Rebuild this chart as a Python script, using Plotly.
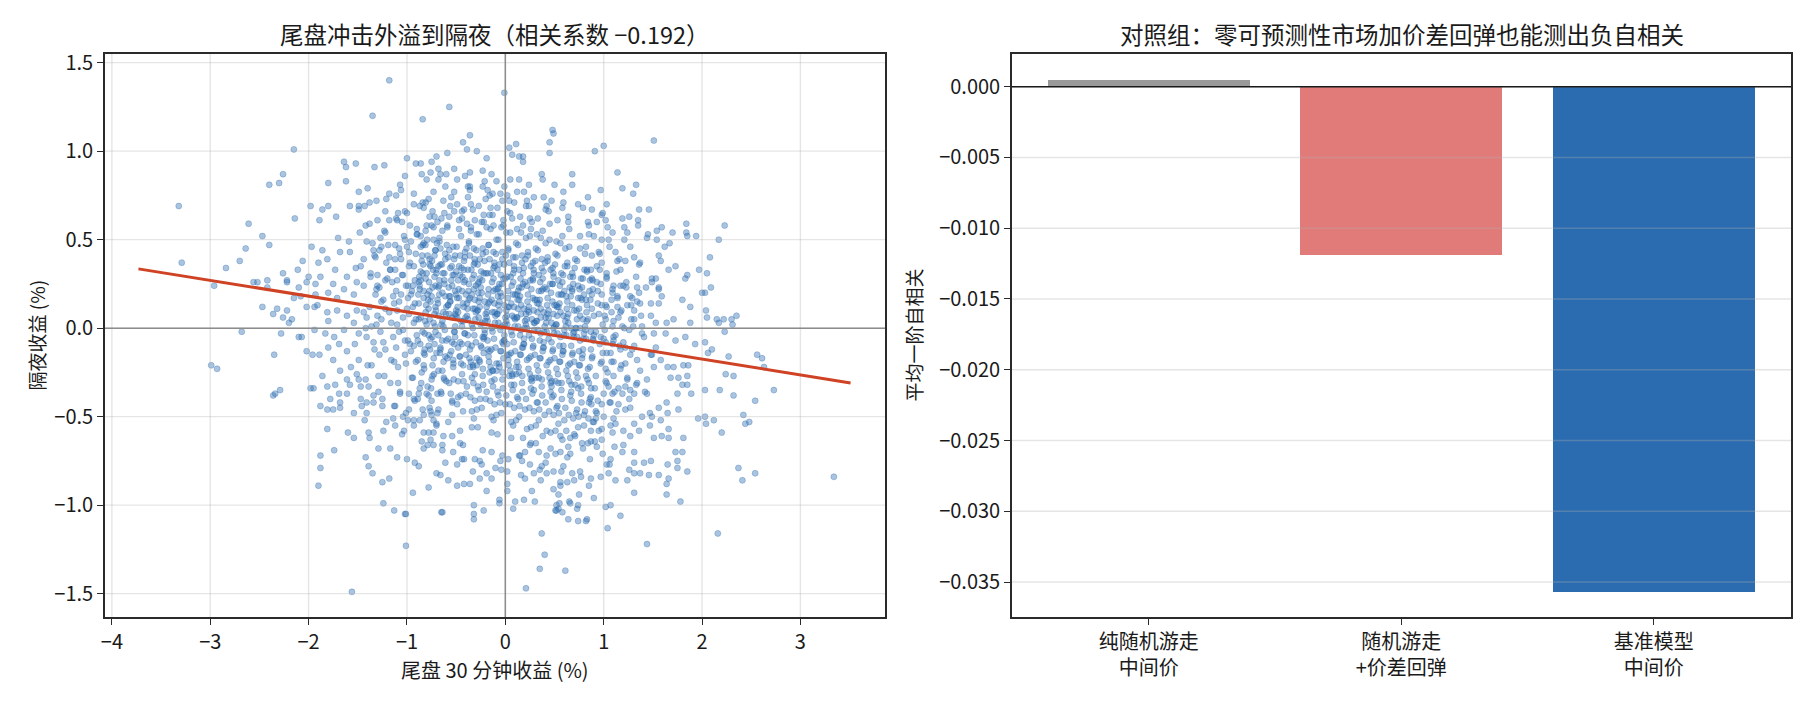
import plotly.graph_objects as go

# ---- left panel: late-session 30 min return (x, %) vs overnight return (y, %) ----
# points, sparse outer ring first, dense middle last
upper_left_pts = [
    (-1.18, 1.40), (-1.35, 1.20), (-0.84, 1.18), (-2.15, 1.01), (-3.32, 0.69), (-3.29, 0.37), (-2.40, 0.81), (-2.30, 0.82),
    (-2.26, 0.87), (-2.61, 0.59), (-2.47, 0.52), (-2.40, 0.47), (-2.64, 0.45), (-2.70, 0.38), (-2.84, 0.34), (-2.26, 0.31),
    (-2.14, 0.62), (-2.11, 0.33), (-2.22, 0.27), (-2.42, 0.27), (-2.52, 0.26), (-2.96, 0.24), (-1.80, 0.82), (-1.64, 0.94),
    (-1.62, 0.91), (-1.52, 0.93), (-1.33, 0.91), (-1.23, 0.92), (-1.62, 0.83), (-1.40, 0.79), (-1.49, 0.77), (-1.98, 0.69),
    (-1.86, 0.67), (-1.80, 0.69), (-1.89, 0.61), (-1.72, 0.63), (-1.58, 0.69), (-1.49, 0.69), (-1.43, 0.69), (-1.49, 0.67),
    (-1.00, 0.96), (-0.91, 0.93), (-0.86, 0.93), (-0.70, 0.97), (-1.02, 0.86), (-1.07, 0.81), (-0.93, 0.76), (-1.11, 0.75),
    (-1.18, 0.76), (-1.31, 0.72), (-1.22, 0.66), (-1.30, 0.61), (-1.10, 0.61), (-1.00, 0.65), (-0.93, 0.70), (-0.83, 0.68),
    (-0.78, 0.73), (-0.73, 0.77), (-0.68, 0.84), (-1.97, 0.46), (-1.86, 0.44), (-1.81, 0.39), (-1.90, 0.37), (-2.06, 0.38),
    (-2.00, 0.29), (-1.88, 0.29), (-1.73, 0.33), (-1.68, 0.43), (-1.58, 0.43), (-1.70, 0.51), (-1.59, 0.49), (-1.48, 0.54),
    (-1.38, 0.59), (-1.41, 0.49), (-1.44, 0.39), (-1.52, 0.34), (-1.61, 0.29), (-1.51, 0.26), (-1.37, 0.31), (-1.32, 0.40),
    (-1.26, 0.46), (-1.22, 0.54), (-1.17, 0.33), (-1.12, 0.39), (-1.10, 0.27), (-1.02, 0.50), (-0.98, 0.43), (-0.93, 0.35),
    (-0.90, 0.56), (-0.83, 0.48), (-0.80, 0.58), (-0.73, 0.50), (-0.86, 0.27), (-0.70, 0.31), (-0.77, 0.39), (-0.71, 0.24),
    (-1.30, 0.24), (-1.75, 0.25),
]
upper_right_pts = [
    (-0.01, 1.33), (-0.57, 1.25), (0.48, 1.12), (0.49, 1.10), (1.51, 1.06), (-0.36, 1.09), (-0.43, 1.05), (0.04, 1.02),
    (0.11, 1.04), (0.45, 1.05), (0.45, 0.99), (0.91, 1.00), (1.00, 1.03), (-0.39, 1.01), (-0.29, 1.00), (-0.59, 0.99),
    (-0.19, 0.96), (0.07, 0.98), (0.14, 0.97), (0.18, 0.97), (0.18, 0.94), (-0.75, 0.94), (-0.85, 0.87), (-0.68, 0.90),
    (-0.52, 0.90), (-0.36, 0.88), (-0.23, 0.89), (-0.14, 0.87), (-0.66, 0.87), (-0.76, 0.88), (-0.60, 0.87), (-0.49, 0.84),
    (-0.36, 0.80), (-0.23, 0.80), (-0.09, 0.83), (-0.05, 0.76), (-0.13, 0.76), (0.05, 0.84), (0.14, 0.84), (0.24, 0.81),
    (0.37, 0.87), (0.38, 0.84), (0.50, 0.81), (0.68, 0.87), (0.68, 0.81), (0.59, 0.77), (1.14, 0.88), (1.19, 0.79),
    (1.33, 0.81), (1.30, 0.76), (0.97, 0.78), (0.84, 0.74), (0.74, 0.70), (0.88, 0.67), (1.03, 0.70), (1.36, 0.67),
    (1.46, 0.67), (1.35, 0.61), (1.35, 0.58), (1.26, 0.63), (1.84, 0.59), (2.23, 0.58), (2.17, 0.50), (2.08, 0.40),
    (1.97, 0.33), (2.05, 0.31), (2.09, 0.23), (1.84, 0.54), (1.85, 0.52), (1.94, 0.52), (1.70, 0.54), (1.54, 0.55),
    (1.59, 0.57), (1.45, 0.53), (1.54, 0.50), (1.67, 0.48), (1.62, 0.46), (1.56, 0.41), (1.58, 0.38), (1.66, 0.33),
    (1.73, 0.35), (1.85, 0.30), (1.83, 0.28), (1.53, 0.28), (1.49, 0.28), (1.56, 0.23), (1.34, 0.23), (1.21, 0.50),
    (1.21, 0.57), (1.27, 0.46), (1.31, 0.40), (1.37, 0.37), (1.17, 0.33), (1.22, 0.38), (1.12, 0.43), (1.14, 0.38),
    (1.06, 0.46), (1.09, 0.54), (0.98, 0.64), (1.02, 0.61), (0.93, 0.60), (0.85, 0.58), (0.76, 0.52), (0.90, 0.52),
    (0.98, 0.50), (0.95, 0.43), (0.82, 0.46), (0.88, 0.41), (0.98, 0.37), (0.87, 0.33), (1.03, 0.31), (0.93, 0.26),
    (1.10, 0.24), (-0.81, 0.71), (-0.74, 0.66), (-0.63, 0.72), (-0.57, 0.63), (-0.49, 0.70), (-0.44, 0.66), (-0.38, 0.74),
    (-0.31, 0.61), (-0.27, 0.69), (-0.20, 0.73), (-0.16, 0.64), (-0.08, 0.68), (-0.03, 0.72), (0.02, 0.66), (0.09, 0.71),
    (0.15, 0.63), (0.21, 0.69), (0.29, 0.74), (0.33, 0.62), (0.41, 0.67), (0.47, 0.72), (0.53, 0.61), (0.58, 0.68),
    (0.64, 0.60), (-0.69, 0.60), (-0.52, 0.77), (-0.12, 0.58), (0.26, 0.56), (-0.35, 0.55), (0.12, 0.77),
]
lower_left_pts = [
    (-2.68, -0.02), (-2.99, -0.21), (-2.93, -0.23), (-2.35, -0.15), (-2.28, -0.03), (-2.36, -0.38), (-2.34, -0.37), (-2.29, -0.35),
    (-2.47, 0.12), (-2.36, 0.08), (-2.32, 0.11), (-2.26, 0.06), (-2.22, 0.10), (-2.20, 0.03), (-2.17, 0.05), (-2.15, 0.17),
    (-2.08, 0.18), (-2.56, 0.26), (-2.42, 0.23), (-2.22, 0.26), (-2.10, -0.05), (-2.07, -0.05), (-2.02, -0.13), (-1.96, -0.15),
    (-1.89, -0.15), (-1.94, -0.01), (-1.94, 0.12), (-2.02, 0.12), (-1.86, -0.27), (-1.95, -0.34), (-1.81, -0.33), (-1.88, -0.44),
    (-1.81, -0.57), (-1.88, -0.72), (-1.88, -0.79), (-1.90, -0.89), (-1.74, -0.69), (-1.60, -0.59), (-1.54, -0.62), (-1.42, -0.73),
    (-1.39, -0.78), (-1.35, -0.82), (-1.43, -0.52), (-1.39, -0.59), (-1.38, -0.62), (-1.29, -0.68), (-1.25, -0.87), (-1.18, -0.85),
    (-1.24, -0.99), (-1.13, -1.03), (-1.02, -1.05), (-0.94, -0.93), (-0.78, -0.90), (-0.92, -0.76), (-0.88, -0.78), (-1.00, -0.74),
    (-1.10, -0.73), (-1.17, -0.68), (-1.05, -0.60), (-1.12, -0.55), (-1.21, -0.53), (-1.24, -0.58), (-0.99, -0.52), (-0.93, -0.52),
    (-0.87, -0.52), (-0.83, -0.59), (-0.78, -0.59), (-0.73, -0.66), (-0.79, -0.66), (-0.70, -0.82), (-0.83, -0.49), (-0.75, -0.49),
    (-0.70, -0.54), (-1.04, -0.50), (-1.58, -0.32), (-1.61, -0.37), (-1.69, -0.37), (-1.68, -0.42), (-1.78, -0.40), (-1.81, -0.46),
    (-1.68, -0.45), (-1.75, -0.46), (-1.54, -0.48), (-1.47, -0.40), (-1.41, -0.42), (-1.34, -0.42), (-1.34, -0.38), (-1.25, -0.44),
    (-1.13, -0.44), (-1.07, -0.37), (-0.98, -0.37), (-0.93, -0.40), (-0.88, -0.37), (-0.80, -0.37), (-0.75, -0.41), (-0.77, -0.45),
    (-0.68, -0.46), (-1.41, -0.48), (-1.98, -0.34), (-1.75, -0.18), (-1.80, -0.11), (-1.68, -0.24), (-1.57, -0.22), (-1.51, -0.26),
    (-1.61, -0.29), (-1.73, -0.32), (-1.47, -0.33), (-1.42, -0.29), (-1.49, -0.18), (-1.40, -0.21), (-1.61, -0.13), (-1.53, -0.09),
    (-1.69, -0.09), (-1.74, -0.05), (-1.83, -0.03), (-1.64, -0.01), (-1.49, -0.03), (-1.42, 0.00), (-1.80, 0.04), (-1.81, 0.09),
    (-1.71, 0.10), (-1.61, 0.07), (-1.51, 0.10), (-1.54, 0.03), (-1.41, 0.06), (-1.91, 0.13), (-1.93, 0.19), (-1.80, 0.20),
    (-1.71, 0.17), (-1.64, 0.22), (-1.54, 0.19), (-1.44, 0.24), (-2.02, 0.26), (-2.10, 0.23), (-1.93, 0.25), (-1.56, -1.49),
    (-1.01, -1.23), (-1.01, -1.05), (-0.65, -1.04), (-0.64, -1.04), (-0.32, -1.00), (-0.32, -1.05), (-0.32, -1.08), (-0.22, -1.03),
    (-0.06, -0.97), (-0.06, -0.99), (-0.33, -0.81), (-0.26, -0.75), (-0.19, -0.92), (-0.14, -0.85), (-0.26, -0.85), (-0.49, -0.89),
    (-0.58, -0.86), (-0.66, -0.83), (-0.61, -0.76), (-0.49, -0.77), (-0.42, -0.88), (-0.36, -0.88), (-0.31, -0.74), (-0.42, -0.74),
    (-0.53, -0.70), (-0.64, -0.66), (-0.83, -0.68), (-0.76, -0.63), (-0.73, -0.59), (-0.54, -0.61), (-0.46, -0.65), (-0.14, -0.70),
    (-0.05, -0.75), (-0.10, -0.79), (-0.19, -0.82),
]
lower_right_pts = [
    (2.56, -0.15), (2.61, -0.17), (2.54, -0.41), (2.54, -0.82), (2.37, -0.79), (2.41, -0.86), (2.42, -0.49), (2.44, -0.54),
    (2.48, -0.53), (2.32, -0.38), (2.32, -0.27), (2.24, -0.26), (2.27, -0.16), (2.18, -0.35), (2.20, -0.59), (2.12, -0.52),
    (2.04, -0.54), (2.03, -0.50), (1.96, -0.51), (2.03, -0.35), (1.89, -0.37), (1.75, -0.37), (1.85, -0.32), (1.80, -0.32),
    (1.76, -0.28), (1.85, -0.27), (1.86, -0.21), (1.81, -0.21), (1.68, -0.28), (1.65, -0.22), (1.93, -0.09), (2.03, -0.08),
    (2.06, -0.14), (2.10, -0.12), (2.23, -0.02), (2.17, 0.03), (2.30, 0.05), (2.35, 0.07), (2.31, 0.02), (2.22, 0.05),
    (2.15, 0.05), (2.05, 0.06), (2.04, 0.10), (2.03, 0.20), (2.00, 0.20), (1.88, 0.12), (1.88, 0.03), (1.80, 0.16),
    (1.71, 0.05), (1.64, 0.03), (1.59, 0.18), (1.56, 0.14), (1.48, 0.14), (1.49, 0.26), (1.56, 0.22), (1.36, 0.20),
    (1.37, 0.14), (1.31, 0.10), (1.53, 0.03), (1.63, -0.03), (1.73, -0.07), (1.83, -0.05), (1.53, -0.11), (1.48, -0.15),
    (1.58, -0.18), (1.71, -0.22), (1.51, -0.22), (1.44, -0.29), (1.34, -0.31), (1.31, -0.37), (1.44, -0.37), (1.56, -0.45),
    (1.64, -0.42), (1.76, -0.46), (1.65, -0.48), (1.58, -0.52), (1.49, -0.50), (1.39, -0.50), (1.31, -0.54), (1.47, -0.55),
    (1.66, -0.57), (1.51, -0.62), (1.59, -0.61), (1.66, -0.62), (1.81, -0.62), (1.73, -0.70), (1.80, -0.70), (1.75, -0.75),
    (1.65, -0.77), (1.75, -0.79), (1.85, -0.81), (1.66, -0.85), (1.64, -0.88), (1.64, -0.94), (1.56, -0.83), (1.78, -0.98),
    (1.48, -0.75), (1.41, -0.76), (1.31, -0.76), (1.37, -0.82), (1.31, -0.82), (1.24, -0.86), (1.31, -0.93), (1.17, -1.06),
    (1.12, -0.86), (1.05, -0.82), (1.07, -0.74), (1.19, -0.70), (1.20, -0.66), (1.09, -0.59), (0.98, -0.63), (0.93, -0.67),
    (0.98, -0.57), (0.99, -0.71), (1.03, -0.77), (0.97, -0.84), (0.87, -0.85), (0.85, -0.89), (0.90, -0.96), (1.02, -1.01),
    (1.04, -1.13), (1.07, -1.00), (0.75, -0.94), (0.73, -1.02), (0.83, -1.08), (0.64, -1.08), (0.58, -1.04), (0.54, -1.02),
    (0.51, -1.03), (0.55, -0.99), (0.65, -0.98), (0.54, -0.94), (0.49, -0.91), (0.70, -0.86), (0.63, -0.87), (0.56, -0.87),
    (0.76, -0.81), (0.68, -0.82), (0.59, -0.78), (0.42, -0.82), (0.35, -0.80), (0.29, -0.82), (0.20, -0.85), (0.27, -0.92),
    (0.37, -1.16), (0.19, -0.97), (0.08, -1.02), (0.10, -0.98), (0.02, -0.92), (0.02, -0.88), (0.02, -0.81), (0.15, -0.72),
    (0.14, -0.72), (0.34, -0.70), (0.42, -0.72), (0.56, -0.70), (0.64, -0.67), (0.78, -0.65), (0.87, -0.64), (0.31, -0.65),
    (0.25, -0.66), (0.03, -0.74), (0.20, -0.70), (0.25, -0.77), (0.41, -0.76), (0.49, -0.81), (0.51, -0.71), (0.63, -0.73),
    (0.56, -0.61), (0.70, -0.60), (0.79, -0.68), (0.87, -0.58), (1.10, -0.51), (1.20, -0.58), (1.27, -0.61), (1.36, -0.58),
    (1.07, -0.55), (0.90, -0.53), (1.00, -0.50), (1.22, -0.46), (1.15, -0.43), (1.27, -0.35), (1.19, -0.37), (1.15, -0.34),
    (1.33, -0.32), (1.24, -0.29), (1.37, -0.24), (1.22, -0.20), (1.34, -0.18), (1.17, -0.12), (1.31, -0.10), (1.41, -0.05),
    (1.39, 0.01), (1.26, -0.01), (1.51, -0.03), (1.48, 0.07), (1.31, 0.05), (1.17, 0.09), (1.24, 0.13), (1.14, 0.17),
    (1.27, 0.18), (1.20, 0.24), (1.09, 0.22), (1.03, 0.12), (1.09, 0.01), (1.02, 0.05), (0.97, -0.05), (1.10, -0.07),
    (1.03, -0.14), (1.10, -0.19), (1.02, -0.23), (1.10, -0.27), (1.03, -0.31), (1.09, -0.37), (0.98, -0.43), (0.92, -0.47),
    (0.80, -0.49), (0.85, -0.42), (2.63, -0.22), (2.73, -0.35), (3.34, -0.84), (0.30, -0.98), (0.40, -1.28), (0.35, -1.36),
    (0.21, -1.47), (0.61, -1.37), (0.52, -1.00), (0.52, -1.03), (0.66, -0.99), (0.74, -1.09), (0.82, -1.09), (0.74, -1.00),
    (1.44, -1.22), (2.16, -1.16),
]
core_pts = [
    (-1.38, 0.12), (-1.36, -0.21), (-1.33, 0.41), (-1.31, 0.02), (-1.37, 0.29), (-1.34, -0.08), (-1.32, 0.19), (-1.39, -0.33),
    (-1.35, 0.48), (-1.30, 0.07), (-1.28, 0.23), (-1.22, -0.12), (-1.26, 0.05), (-1.21, 0.37), (-1.29, -0.27), (-1.24, 0.16),
    (-1.23, 0.55), (-1.27, -0.02), (-1.20, 0.28), (-1.25, -0.40), (-1.22, 0.11), (-1.28, 0.44), (-1.18, 0.09), (-1.12, 0.33),
    (-1.16, -0.18), (-1.11, 0.21), (-1.19, 0.47), (-1.14, -0.05), (-1.13, 0.14), (-1.17, -0.31), (-1.10, 0.02), (-1.15, 0.26),
    (-1.12, -0.44), (-1.18, 0.61), (-1.14, 0.18), (-1.11, -0.11), (-1.08, 0.15), (-1.02, -0.07), (-1.06, 0.39), (-1.01, 0.24),
    (-1.09, -0.22), (-1.04, 0.06), (-1.03, 0.52), (-1.07, -0.36), (-1.00, 0.11), (-1.05, 0.30), (-1.02, -0.15), (-1.08, 0.45),
    (-1.04, -0.01), (-1.06, 0.19), (-1.01, -0.48), (-1.09, 0.65), (-0.98, 0.08), (-0.92, 0.27), (-0.96, -0.13), (-0.91, 0.42),
    (-0.99, 0.17), (-0.94, -0.28), (-0.93, 0.03), (-0.97, 0.58), (-0.90, -0.04), (-0.95, 0.21), (-0.92, -0.41), (-0.98, 0.35),
    (-0.94, 0.12), (-0.91, -0.19), (-0.96, 0.49), (-0.93, -0.55), (-0.99, 0.24), (-0.97, -0.09), (-0.88, 0.14), (-0.82, -0.03),
    (-0.86, 0.32), (-0.81, 0.09), (-0.89, -0.18), (-0.84, 0.47), (-0.83, 0.21), (-0.87, -0.34), (-0.80, 0.02), (-0.85, 0.38),
    (-0.82, -0.12), (-0.88, 0.26), (-0.84, -0.46), (-0.86, 0.06), (-0.81, 0.55), (-0.89, -0.07), (-0.83, 0.17), (-0.87, 0.69),
    (-0.85, -0.25), (-0.80, 0.31), (-0.78, 0.11), (-0.72, 0.29), (-0.76, -0.06), (-0.71, 0.44), (-0.79, 0.19), (-0.74, -0.21),
    (-0.73, 0.03), (-0.77, 0.36), (-0.70, -0.14), (-0.75, 0.58), (-0.72, 0.08), (-0.78, -0.38), (-0.74, 0.23), (-0.71, -0.02),
    (-0.76, 0.15), (-0.73, -0.52), (-0.79, 0.41), (-0.77, 0.05), (-0.70, 0.33), (-0.75, -0.29), (-0.72, 0.63), (-0.78, -0.10),
    (-0.68, 0.07), (-0.62, 0.25), (-0.66, -0.11), (-0.61, 0.39), (-0.69, 0.16), (-0.64, -0.24), (-0.63, 0.01), (-0.67, 0.51),
    (-0.60, 0.12), (-0.65, -0.37), (-0.62, 0.31), (-0.68, -0.04), (-0.64, 0.20), (-0.61, -0.16), (-0.66, 0.45), (-0.63, 0.09),
    (-0.69, -0.48), (-0.67, 0.27), (-0.60, -0.07), (-0.65, 0.62), (-0.62, -0.29), (-0.68, 0.35), (-0.64, 0.04), (-0.61, 0.18),
    (-0.58, 0.13), (-0.52, -0.02), (-0.56, 0.34), (-0.51, 0.21), (-0.59, -0.17), (-0.54, 0.06), (-0.53, 0.46), (-0.57, -0.31),
    (-0.50, 0.10), (-0.55, 0.27), (-0.52, -0.09), (-0.58, 0.40), (-0.54, -0.42), (-0.51, 0.01), (-0.56, 0.18), (-0.53, -0.22),
    (-0.59, 0.57), (-0.57, 0.08), (-0.50, 0.32), (-0.55, -0.13), (-0.52, 0.66), (-0.58, -0.53), (-0.54, 0.24), (-0.51, -0.05),
    (-0.56, 0.15), (-0.48, 0.09), (-0.42, 0.26), (-0.46, -0.08), (-0.41, 0.43), (-0.49, 0.17), (-0.44, -0.26), (-0.43, 0.04),
    (-0.47, 0.35), (-0.40, -0.15), (-0.45, 0.52), (-0.42, 0.12), (-0.48, -0.39), (-0.44, 0.21), (-0.41, -0.03), (-0.46, 0.30),
    (-0.43, -0.47), (-0.49, 0.06), (-0.47, 0.61), (-0.40, 0.19), (-0.45, -0.20), (-0.42, 0.38), (-0.48, -0.11), (-0.44, 0.01),
    (-0.41, 0.27), (-0.46, -0.58), (-0.43, 0.14), (-0.38, 0.05), (-0.32, 0.22), (-0.36, -0.12), (-0.31, 0.37), (-0.39, 0.14),
    (-0.34, -0.28), (-0.33, 0.00), (-0.37, 0.48), (-0.30, 0.09), (-0.35, -0.19), (-0.32, 0.30), (-0.38, -0.04), (-0.34, 0.19),
    (-0.31, -0.41), (-0.36, 0.41), (-0.33, 0.11), (-0.39, -0.33), (-0.37, 0.25), (-0.30, -0.08), (-0.35, 0.57), (-0.32, -0.51),
    (-0.38, 0.33), (-0.34, 0.02), (-0.31, 0.16), (-0.36, -0.22), (-0.33, 0.67), (-0.39, 0.07), (-0.28, 0.10), (-0.22, -0.06),
    (-0.26, 0.28), (-0.21, 0.15), (-0.29, -0.21), (-0.24, 0.03), (-0.23, 0.42), (-0.27, -0.35), (-0.20, 0.08), (-0.25, 0.23),
    (-0.22, -0.14), (-0.28, 0.36), (-0.24, -0.45), (-0.21, -0.01), (-0.26, 0.17), (-0.23, -0.27), (-0.29, 0.53), (-0.27, 0.06),
    (-0.20, 0.31), (-0.25, -0.10), (-0.22, 0.60), (-0.28, -0.56), (-0.24, 0.20), (-0.21, -0.03), (-0.26, 0.12), (-0.23, 0.45),
    (-0.29, -0.17), (-0.27, 0.26), (-0.18, 0.04), (-0.12, 0.21), (-0.16, -0.13), (-0.11, 0.35), (-0.19, 0.12), (-0.14, -0.30),
    (-0.13, -0.02), (-0.17, 0.47), (-0.10, 0.07), (-0.15, -0.22), (-0.12, 0.28), (-0.18, -0.07), (-0.14, 0.16), (-0.11, -0.43),
    (-0.16, 0.39), (-0.13, 0.09), (-0.19, -0.36), (-0.17, 0.22), (-0.10, -0.11), (-0.15, 0.56), (-0.12, -0.52), (-0.18, 0.31),
    (-0.14, 0.00), (-0.11, 0.14), (-0.16, -0.25), (-0.13, 0.64), (-0.19, 0.06), (-0.17, -0.16), (-0.08, 0.08), (-0.02, -0.09),
    (-0.06, 0.25), (-0.01, 0.13), (-0.09, -0.24), (-0.04, 0.01), (-0.03, 0.39), (-0.07, -0.38), (0.00, 0.06), (-0.05, 0.20),
    (-0.02, -0.17), (-0.08, 0.33), (-0.04, -0.48), (-0.01, -0.04), (-0.06, 0.15), (-0.03, -0.29), (-0.09, 0.50), (-0.07, 0.03),
    (0.00, 0.28), (-0.05, -0.13), (-0.02, 0.58), (-0.08, -0.60), (-0.04, 0.18), (-0.01, -0.07), (-0.06, 0.10), (-0.03, 0.43),
    (-0.09, -0.20), (-0.07, 0.23), (0.02, 0.02), (0.08, 0.19), (0.04, -0.15), (0.09, 0.33), (0.01, 0.10), (0.06, -0.32),
    (0.07, -0.04), (0.03, 0.45), (0.10, 0.05), (0.05, -0.24), (0.08, 0.26), (0.02, -0.09), (0.06, 0.14), (0.09, -0.45),
    (0.04, 0.37), (0.07, 0.07), (0.01, -0.38), (0.03, 0.21), (0.10, -0.13), (0.05, 0.54), (0.08, -0.55), (0.02, 0.29),
    (0.06, -0.02), (0.09, 0.12), (0.04, -0.27), (0.07, 0.62), (0.01, 0.04), (0.03, -0.18), (0.12, 0.06), (0.18, -0.11),
    (0.14, 0.23), (0.19, 0.11), (0.11, -0.26), (0.16, -0.01), (0.17, 0.37), (0.13, -0.40), (0.20, 0.04), (0.15, 0.18),
    (0.12, -0.19), (0.18, 0.31), (0.14, -0.50), (0.19, -0.06), (0.16, 0.13), (0.17, -0.31), (0.11, 0.48), (0.13, 0.01),
    (0.20, 0.26), (0.15, -0.15), (0.12, 0.56), (0.18, -0.62), (0.14, 0.16), (0.19, -0.09), (0.16, 0.08), (0.17, 0.41),
    (0.11, -0.22), (0.13, 0.21), (0.22, 0.00), (0.28, 0.17), (0.24, -0.17), (0.29, 0.31), (0.21, 0.08), (0.26, -0.34),
    (0.27, -0.06), (0.23, 0.43), (0.30, 0.03), (0.25, -0.26), (0.22, 0.24), (0.28, -0.11), (0.24, 0.12), (0.29, -0.47),
    (0.26, 0.35), (0.27, 0.05), (0.21, -0.40), (0.23, 0.19), (0.30, -0.15), (0.25, 0.52), (0.22, -0.57), (0.28, 0.27),
    (0.24, -0.04), (0.29, 0.10), (0.26, -0.29), (0.27, 0.60), (0.21, 0.02), (0.32, 0.04), (0.38, -0.13), (0.34, 0.21),
    (0.39, 0.09), (0.31, -0.28), (0.36, -0.03), (0.37, 0.34), (0.33, -0.42), (0.40, 0.01), (0.35, 0.16), (0.32, -0.21),
    (0.38, 0.28), (0.34, -0.52), (0.39, -0.08), (0.36, 0.11), (0.37, -0.33), (0.31, 0.45), (0.33, -0.01), (0.40, 0.23),
    (0.35, -0.17), (0.32, 0.53), (0.38, -0.61), (0.34, 0.14), (0.39, -0.11), (0.36, 0.06), (0.37, 0.39), (0.42, -0.02),
    (0.48, 0.15), (0.44, -0.19), (0.49, 0.29), (0.41, 0.06), (0.46, -0.36), (0.47, -0.08), (0.43, 0.40), (0.50, 0.01),
    (0.45, -0.28), (0.42, 0.22), (0.48, -0.13), (0.44, 0.10), (0.49, -0.49), (0.46, 0.33), (0.47, 0.03), (0.41, -0.42),
    (0.43, 0.17), (0.50, -0.17), (0.45, 0.50), (0.42, -0.58), (0.48, 0.25), (0.44, -0.06), (0.49, 0.08), (0.46, -0.31),
    (0.52, 0.02), (0.58, -0.15), (0.54, 0.19), (0.59, 0.07), (0.51, -0.30), (0.56, -0.05), (0.57, 0.31), (0.53, -0.44),
    (0.60, -0.01), (0.55, 0.14), (0.52, -0.23), (0.58, 0.26), (0.54, -0.54), (0.59, -0.10), (0.56, 0.09), (0.57, -0.35),
    (0.51, 0.42), (0.53, -0.03), (0.60, 0.21), (0.55, -0.19), (0.52, 0.49), (0.58, -0.63), (0.54, 0.12), (0.59, -0.13),
    (0.62, -0.04), (0.68, 0.13), (0.64, -0.21), (0.69, 0.25), (0.61, 0.04), (0.66, -0.38), (0.67, -0.10), (0.63, 0.37),
    (0.70, -0.02), (0.65, -0.30), (0.62, 0.18), (0.68, -0.15), (0.64, 0.08), (0.69, -0.51), (0.66, 0.29), (0.67, 0.00),
    (0.61, -0.45), (0.63, 0.15), (0.70, -0.19), (0.65, 0.46), (0.62, -0.58), (0.68, 0.21), (0.72, 0.00), (0.78, -0.17),
    (0.74, 0.17), (0.79, 0.05), (0.71, -0.32), (0.76, -0.07), (0.77, 0.28), (0.73, -0.46), (0.80, -0.03), (0.75, 0.11),
    (0.72, -0.25), (0.78, 0.23), (0.74, -0.56), (0.79, -0.12), (0.76, 0.07), (0.77, -0.37), (0.71, 0.39), (0.73, -0.05),
    (0.80, 0.19), (0.75, -0.21), (0.82, -0.06), (0.88, 0.11), (0.84, -0.23), (0.89, 0.22), (0.81, 0.01), (0.86, -0.40),
    (0.87, -0.12), (0.83, 0.33), (0.90, -0.04), (0.85, -0.31), (0.82, 0.16), (0.88, -0.17), (0.84, 0.05), (0.89, -0.53),
    (0.86, 0.27), (0.87, -0.02), (0.81, -0.47), (0.83, 0.13), (0.92, -0.02), (0.98, -0.19), (0.94, 0.14), (0.99, 0.02),
    (0.91, -0.34), (0.96, -0.09), (0.97, 0.25), (0.93, -0.48), (1.00, -0.06), (0.95, 0.08), (0.92, -0.27), (0.98, 0.19),
    (0.94, -0.41), (0.99, -0.14), (0.96, 0.33), (1.02, -0.08), (1.08, 0.09), (1.04, -0.25), (1.09, 0.20), (1.01, -0.01),
    (1.06, -0.42), (1.07, -0.14), (1.03, 0.28), (1.10, -0.05), (1.05, -0.33), (1.02, 0.13), (1.08, -0.19), (1.12, -0.04),
    (1.18, -0.21), (1.14, 0.12), (1.19, 0.01), (1.11, -0.36), (1.16, -0.10), (1.17, 0.24), (1.13, -0.47), (1.20, -0.08),
    (1.15, 0.06), (1.22, -0.11), (1.28, 0.05), (1.24, -0.28), (1.29, 0.17), (1.21, 0.00), (1.26, -0.40), (1.27, -0.15),
    (1.23, 0.23),
]
# second pass over the darkest middle of the cloud
core_dense_pts = [
    (-0.845, 0.41), (-0.815, 0.04), (-0.875, 0.29), (-0.825, -0.23), (-0.895, 0.53), (-0.805, 0.13), (-0.865, -0.09), (-0.835, 0.36),
    (-0.855, -0.31), (-0.885, 0.19), (-0.812, 0.47), (-0.842, -0.02), (-0.872, 0.24), (-0.828, -0.14), (-0.745, 0.38), (-0.715, 0.01),
    (-0.775, 0.26), (-0.725, -0.26), (-0.795, 0.50), (-0.705, 0.10), (-0.765, -0.12), (-0.735, 0.33), (-0.755, -0.34), (-0.785, 0.16),
    (-0.712, 0.44), (-0.742, -0.05), (-0.772, 0.21), (-0.728, -0.17), (-0.645, 0.36), (-0.615, -0.01), (-0.675, 0.24), (-0.625, -0.28),
    (-0.695, 0.48), (-0.605, 0.08), (-0.665, -0.14), (-0.635, 0.31), (-0.655, -0.36), (-0.685, 0.14), (-0.612, 0.42), (-0.642, -0.07),
    (-0.672, 0.19), (-0.628, -0.19), (-0.545, 0.35), (-0.515, -0.02), (-0.575, 0.23), (-0.525, -0.29), (-0.595, 0.47), (-0.505, 0.07),
    (-0.565, -0.15), (-0.535, 0.30), (-0.555, -0.37), (-0.585, 0.13), (-0.512, 0.41), (-0.542, -0.08), (-0.572, 0.18), (-0.528, -0.20),
    (-0.445, 0.34), (-0.415, -0.03), (-0.475, 0.22), (-0.425, -0.30), (-0.495, 0.46), (-0.405, 0.06), (-0.465, -0.16), (-0.435, 0.29),
    (-0.455, -0.38), (-0.485, 0.12), (-0.412, 0.40), (-0.442, -0.09), (-0.472, 0.17), (-0.428, -0.21), (-0.345, 0.33), (-0.315, -0.04),
    (-0.375, 0.21), (-0.325, -0.31), (-0.395, 0.45), (-0.305, 0.05), (-0.365, -0.17), (-0.335, 0.28), (-0.355, -0.39), (-0.385, 0.11),
    (-0.312, 0.39), (-0.342, -0.10), (-0.372, 0.16), (-0.328, -0.22), (-0.245, 0.32), (-0.215, -0.05), (-0.275, 0.20), (-0.225, -0.32),
    (-0.295, 0.44), (-0.205, 0.04), (-0.265, -0.18), (-0.235, 0.27), (-0.255, -0.40), (-0.285, 0.10), (-0.212, 0.38), (-0.242, -0.11),
    (-0.272, 0.15), (-0.228, -0.23), (-0.145, 0.31), (-0.115, -0.06), (-0.175, 0.19), (-0.125, -0.33), (-0.195, 0.43), (-0.105, 0.03),
    (-0.165, -0.19), (-0.135, 0.26), (-0.155, -0.41), (-0.185, 0.09), (-0.112, 0.37), (-0.142, -0.12), (-0.172, 0.14), (-0.128, -0.24),
    (-0.045, 0.30), (-0.015, -0.07), (-0.075, 0.18), (-0.025, -0.34), (-0.095, 0.42), (-0.005, 0.02), (-0.065, -0.20), (-0.035, 0.25),
    (-0.055, -0.42), (-0.085, 0.08), (-0.012, 0.36), (-0.042, -0.13), (-0.072, 0.13), (-0.028, -0.25), (0.055, 0.29), (0.085, -0.08),
    (0.025, 0.17), (0.075, -0.35), (0.005, 0.41), (0.095, 0.01), (0.035, -0.21), (0.065, 0.24), (0.045, -0.43), (0.015, 0.07),
    (0.088, 0.35), (0.058, -0.14), (0.028, 0.12), (0.072, -0.26), (0.155, 0.28), (0.185, -0.09), (0.125, 0.16), (0.175, -0.36),
    (0.105, 0.40), (0.195, 0.00), (0.135, -0.22), (0.165, 0.23), (0.145, -0.44), (0.115, 0.06), (0.188, 0.34), (0.158, -0.15),
    (0.128, 0.11), (0.172, -0.27), (0.255, 0.27), (0.285, -0.10), (0.225, 0.15), (0.275, -0.37), (0.205, 0.39), (0.295, -0.01),
    (0.235, -0.23), (0.265, 0.22), (0.245, -0.45), (0.215, 0.05), (0.288, 0.33), (0.258, -0.16), (0.228, 0.10), (0.272, -0.28),
    (0.355, 0.26), (0.385, -0.11), (0.325, 0.14), (0.375, -0.38), (0.305, 0.38), (0.395, -0.02), (0.335, -0.24), (0.365, 0.21),
    (0.345, -0.46), (0.315, 0.04), (0.388, 0.32), (0.358, -0.17), (0.328, 0.09), (0.372, -0.29), (0.455, 0.25), (0.485, -0.12),
    (0.425, 0.13), (0.475, -0.39), (0.405, 0.37), (0.495, -0.03), (0.435, -0.25), (0.465, 0.20), (0.445, -0.47), (0.415, 0.03),
    (0.488, 0.31), (0.458, -0.18), (0.428, 0.08), (0.472, -0.30), (0.555, 0.24), (0.585, -0.13), (0.525, 0.12), (0.575, -0.40),
    (0.505, 0.36), (0.595, -0.04), (0.535, -0.26), (0.565, 0.19), (0.545, -0.48), (0.515, 0.02), (0.588, 0.30), (0.558, -0.19),
    (0.528, 0.07), (0.572, -0.31), (0.655, 0.23), (0.685, -0.14), (0.625, 0.11), (0.675, -0.41), (0.605, 0.35), (0.695, -0.05),
    (0.635, -0.27), (0.665, 0.18), (0.645, -0.49), (0.615, 0.01), (0.688, 0.29), (0.658, -0.20), (0.628, 0.06), (0.672, -0.32),
    (0.755, 0.22), (0.785, -0.15), (0.725, 0.10), (0.775, -0.42), (0.705, 0.34), (0.795, -0.06), (0.735, -0.28), (0.765, 0.17),
    (0.745, -0.50), (0.715, 0.00), (0.788, 0.28), (0.758, -0.21), (0.728, 0.05), (0.772, -0.33), (0.855, 0.21), (0.885, -0.16),
    (0.825, 0.09), (0.875, -0.43), (0.805, 0.33), (0.895, -0.07), (0.835, -0.29), (0.865, 0.16), (0.845, -0.51), (0.815, -0.01),
    (0.888, 0.27), (0.858, -0.22), (0.828, 0.04), (0.872, -0.34),
]
# third pass over the wider body of the cloud
mid_pts = [
    (-1.47, 0.35), (-1.33, -0.12), (-1.42, 0.58), (-1.36, 0.01), (-1.49, -0.29), (-1.31, 0.22), (-1.44, 0.09), (-1.38, 0.71),
    (-1.46, -0.44), (-1.34, 0.44), (-1.41, -0.05), (-1.30, 0.30), (-1.27, 0.51), (-1.13, -0.19), (-1.22, 0.27), (-1.16, 0.03),
    (-1.29, -0.36), (-1.11, 0.62), (-1.24, -0.08), (-1.18, 0.40), (-1.26, 0.15), (-1.14, -0.51), (-1.21, 0.73), (-1.10, 0.10),
    (-1.28, -0.15), (-1.17, 0.33), (-1.23, -0.27), (-1.12, 0.47), (-1.07, 0.42), (-0.93, -0.10), (-1.02, 0.66), (-0.96, 0.19),
    (-1.09, -0.31), (-0.91, 0.05), (-1.04, 0.30), (-0.98, -0.46), (-1.06, 0.78), (-0.94, 0.24), (-1.01, -0.20), (-0.90, 0.53),
    (-1.08, -0.02), (-0.97, 0.37), (-1.03, -0.58), (-0.92, 0.14), (-1.05, 0.60), (-0.95, -0.28), (-1.00, 0.46), (-0.99, -0.07),
    (-0.87, 0.22), (-0.73, 0.57), (-0.82, -0.15), (-0.76, 0.35), (-0.89, -0.40), (-0.71, 0.12), (-0.84, 0.71), (-0.78, -0.04),
    (-0.86, 0.46), (-0.74, -0.27), (-0.81, 0.28), (-0.70, -0.55), (-0.88, 0.05), (-0.77, 0.63), (-0.83, -0.21), (-0.72, 0.41),
    (-0.85, -0.64), (-0.75, 0.18), (-0.80, 0.84), (-0.79, -0.33), (-0.86, 0.52), (-0.72, -0.09), (-0.84, 0.31), (-0.76, -0.47),
    (-0.67, 0.49), (-0.53, -0.18), (-0.62, 0.27), (-0.56, 0.69), (-0.69, -0.37), (-0.51, 0.08), (-0.64, 0.55), (-0.58, -0.06),
    (-0.66, 0.36), (-0.54, -0.49), (-0.61, 0.80), (-0.50, 0.19), (-0.68, -0.24), (-0.57, 0.44), (-0.63, -0.61), (-0.52, 0.30),
    (-0.65, 0.02), (-0.55, 0.74), (-0.60, -0.30), (-0.59, 0.58), (-0.66, -0.12), (-0.52, 0.39), (-0.64, -0.69), (-0.56, 0.15),
    (-0.62, 0.65), (-0.54, -0.41), (-0.68, 0.23), (-0.47, 0.56), (-0.33, -0.21), (-0.42, 0.33), (-0.36, 0.78), (-0.49, -0.43),
    (-0.31, 0.11), (-0.44, 0.62), (-0.38, -0.09), (-0.46, 0.41), (-0.34, -0.56), (-0.41, 0.86), (-0.30, 0.24), (-0.48, -0.30),
    (-0.37, 0.49), (-0.43, -0.66), (-0.32, 0.36), (-0.45, 0.04), (-0.35, 0.70), (-0.40, -0.37), (-0.39, 0.59), (-0.46, -0.16),
    (-0.32, 0.45), (-0.44, -0.74), (-0.36, 0.17), (-0.42, 0.67), (-0.34, -0.47), (-0.48, 0.27), (-0.38, 0.80), (-0.31, -0.26),
    (-0.27, 0.53), (-0.13, -0.24), (-0.22, 0.31), (-0.16, 0.75), (-0.29, -0.46), (-0.11, 0.09), (-0.24, 0.60), (-0.18, -0.12),
    (-0.26, 0.39), (-0.14, -0.59), (-0.21, 0.83), (-0.10, 0.22), (-0.28, -0.33), (-0.17, 0.47), (-0.23, -0.69), (-0.12, 0.34),
    (-0.25, 0.02), (-0.15, 0.68), (-0.20, -0.40), (-0.19, 0.57), (-0.26, -0.19), (-0.12, 0.43), (-0.24, -0.77), (-0.16, 0.15),
    (-0.22, 0.64), (-0.14, -0.50), (-0.28, 0.25), (-0.18, 0.78), (-0.11, -0.29), (-0.23, -0.05), (-0.07, 0.50), (0.07, -0.27),
    (-0.02, 0.28), (0.04, 0.72), (-0.09, -0.49), (0.09, 0.06), (-0.04, 0.57), (0.02, -0.15), (-0.06, 0.36), (0.06, -0.62),
    (-0.01, 0.80), (0.10, 0.19), (-0.08, -0.36), (0.03, 0.44), (-0.03, -0.72), (0.08, 0.31), (-0.05, -0.01), (0.05, 0.65),
    (0.00, -0.43), (0.01, 0.54), (-0.06, -0.22), (0.08, 0.40), (-0.04, -0.80), (0.04, 0.12), (-0.02, 0.61), (0.06, -0.53),
    (-0.08, 0.22), (0.02, 0.75), (0.09, -0.32), (-0.03, -0.08), (0.13, 0.47), (0.27, -0.30), (0.18, 0.25), (0.24, 0.69),
    (0.11, -0.52), (0.29, 0.03), (0.16, 0.54), (0.22, -0.18), (0.14, 0.33), (0.26, -0.65), (0.19, 0.77), (0.30, 0.16),
    (0.12, -0.39), (0.23, 0.41), (0.17, -0.75), (0.28, 0.28), (0.15, -0.04), (0.25, 0.62), (0.20, -0.46), (0.21, 0.51),
    (0.14, -0.25), (0.28, 0.37), (0.16, -0.83), (0.24, 0.09), (0.18, 0.58), (0.26, -0.56), (0.12, 0.19), (0.22, 0.72),
    (0.29, -0.35), (0.17, -0.11), (0.33, 0.44), (0.47, -0.33), (0.38, 0.22), (0.44, 0.66), (0.31, -0.55), (0.49, 0.00),
    (0.36, 0.51), (0.42, -0.21), (0.34, 0.30), (0.46, -0.68), (0.39, 0.74), (0.50, 0.13), (0.32, -0.42), (0.43, 0.38),
    (0.37, -0.78), (0.48, 0.25), (0.35, -0.07), (0.45, 0.59), (0.40, -0.49), (0.41, 0.48), (0.34, -0.28), (0.48, 0.34),
    (0.36, -0.86), (0.44, 0.06), (0.38, 0.55), (0.46, -0.59), (0.32, 0.16), (0.42, 0.69), (0.49, -0.38), (0.53, 0.41),
    (0.67, -0.36), (0.58, 0.19), (0.64, 0.63), (0.51, -0.58), (0.69, -0.03), (0.56, 0.48), (0.62, -0.24), (0.54, 0.27),
    (0.66, -0.71), (0.59, 0.71), (0.70, 0.10), (0.52, -0.45), (0.63, 0.35), (0.57, -0.81), (0.68, 0.22), (0.55, -0.10),
    (0.65, 0.56), (0.60, -0.52), (0.61, 0.45), (0.54, -0.31), (0.68, 0.31), (0.56, -0.89), (0.64, 0.03), (0.58, 0.52),
    (0.66, -0.62), (0.52, 0.13), (0.73, 0.38), (0.87, -0.39), (0.78, 0.16), (0.84, 0.60), (0.71, -0.61), (0.89, -0.06),
    (0.76, 0.45), (0.82, -0.27), (0.74, 0.24), (0.86, -0.74), (0.79, 0.68), (0.90, 0.07), (0.72, -0.48), (0.83, 0.32),
    (0.77, -0.84), (0.88, 0.19), (0.75, -0.13), (0.85, 0.53), (0.80, -0.55), (0.81, 0.42), (0.74, -0.34), (0.88, 0.28),
    (0.76, 0.00), (0.84, -0.65), (0.93, 0.35), (1.07, -0.42), (0.98, 0.13), (1.04, 0.57), (0.91, -0.64), (1.09, -0.09),
    (0.96, 0.42), (1.02, -0.30), (0.94, 0.21), (1.06, -0.77), (0.99, 0.65), (1.10, 0.04), (0.92, -0.51), (1.03, 0.29),
    (0.97, -0.20), (1.08, 0.16), (0.95, -0.58), (1.05, 0.50), (1.00, -0.37), (1.01, 0.07), (1.13, 0.32), (1.27, -0.45),
    (1.18, 0.10), (1.24, 0.54), (1.11, -0.67), (1.29, -0.12), (1.16, 0.39), (1.22, -0.33), (1.14, 0.18), (1.26, -0.80),
    (1.19, 0.62), (1.30, 0.01), (1.12, -0.54), (1.23, 0.26), (1.17, -0.23), (1.28, 0.13), (1.33, 0.29), (1.47, -0.48),
    (1.38, 0.07), (1.44, 0.51), (1.31, -0.70), (1.49, -0.15), (1.36, 0.36), (1.42, -0.36), (1.34, 0.15), (1.46, -0.83),
    (1.39, -0.03), (1.43, 0.23),
]

# OLS fit shown as red line
fit_slope = -0.089
fit_intercept = 0.003
fit_x_span = [-3.73, 3.51]
corr_coef = -0.192

# ---- right panel: mean first-order autocorrelation ----
model_names = ['纯随机游走<br>中间价', '随机游走<br>+价差回弹', '基准模型<br>中间价']
mean_acf = [0.00047, -0.0119, -0.0357]
bar_colors = ['#999999', '#E07B7A', '#2B6CB0']

acf_ticks = [0.0, -0.005, -0.010, -0.015, -0.020, -0.025, -0.030, -0.035]
ret_x_ticks = [-4, -3, -2, -1, 0, 1, 2, 3]
ret_y_ticks = [-1.5, -1.0, -0.5, 0.0, 0.5, 1.0, 1.5]
ret_x_range = [-4.07, 3.86]
ret_y_range = [-1.632, 1.549]

FONT = 'Noto Sans CJK SC'
SCREEN_W, SCREEN_H = 1812, 710
OFF = 8                                                                                       # default <body> margin of the written page
W, H = SCREEN_W - OFF, SCREEN_H - OFF
GRID = 'rgba(175,175,175,0.32)'
DOT = 'rgba(43,108,176,0.40)'


def px(x):
    return (x - OFF) / W                                                                      # screen pixel -> paper fraction


def py(y):
    return 1 - (y - OFF) / H


def grid_path(ticks, span, vertical):
    """one broken line through every grid position, so it can sit above the dots"""
    a, b = [], []
    for t in ticks:
        a += [t, t, None]
        b += [span[0], span[1], None]
    return (a, b) if vertical else (b, a)


def make_plot(output_file: str = 'out.html'):
    """Two panels: scatter + fitted line on the left, bar chart on the right"""
    pts = upper_left_pts + upper_right_pts + lower_left_pts + lower_right_pts + core_pts + core_dense_pts + mid_pts
    late_ret = [p[0] for p in pts]
    overnight_ret = [p[1] for p in pts]
    fit_y = [fit_intercept + fit_slope * v for v in fit_x_span]

    dom_l = [px(105), px(885)]                                                                # pixel boxes measured on the reference
    dom_r = [px(1012), px(1791)]
    dom_y = [py(617), py(54)]

    fig = go.Figure()
    fig.add_trace(go.Scatter(
        x = late_ret, y = overnight_ret, mode = 'markers',
        marker = dict(size = 6, color = DOT, line = dict(width = 0.8, color = DOT)),
        xaxis = 'x', yaxis = 'y', hoverinfo = 'skip', showlegend = False,
    ))
    gx, gy = grid_path(ret_x_ticks, ret_y_range, True)
    hx, hy = grid_path(ret_y_ticks, ret_x_range, False)
    fig.add_trace(go.Scatter(x = gx + hx, y = gy + hy, mode = 'lines', line = dict(color = GRID, width = 1.4),
                             xaxis = 'x', yaxis = 'y', hoverinfo = 'skip', showlegend = False))
    fig.add_trace(go.Scatter(x = [0, 0, None] + ret_x_range, y = ret_y_range + [None, 0, 0], mode = 'lines',
                             line = dict(color = '#8c8c8c', width = 1.5),
                             xaxis = 'x', yaxis = 'y', hoverinfo = 'skip', showlegend = False))
    fig.add_trace(go.Scatter(
        x = fit_x_span, y = fit_y, mode = 'lines',
        line = dict(color = '#CF4223', width = 3),
        xaxis = 'x', yaxis = 'y', showlegend = False,
    ))
    fig.add_trace(go.Bar(
        x = model_names, y = mean_acf, width = 0.8,
        marker = dict(color = bar_colors, line = dict(width = 0)),
        xaxis = 'x2', yaxis = 'y2', showlegend = False,
    ))

    spine = dict(showline = True, mirror = True, linecolor = '#2a2a2a', linewidth = 1.6, automargin = False,
                 ticks = 'outside', ticklen = 6, tickwidth = 1.4, tickcolor = '#2a2a2a',
                 showgrid = False, zeroline = False,
                 tickfont = dict(size = 20, color = '#1a1a1a', family = FONT))

    fig.update_layout(
        width = W, height = H,
        margin = dict(l = 0, r = 0, t = 0, b = 0, autoexpand = False),
        paper_bgcolor = 'white', plot_bgcolor = 'white',
        font = dict(family = FONT, color = '#1a1a1a'),
        xaxis = dict(domain = dom_l, anchor = 'y', range = ret_x_range, tickvals = ret_x_ticks, **spine),
        yaxis = dict(domain = dom_y, anchor = 'x', range = ret_y_range, tickvals = ret_y_ticks, tickformat = '.1f', **spine),
        xaxis2 = dict(domain = dom_r, anchor = 'y2', type = 'category', range = [-0.541, 2.543], **spine),
        yaxis2 = dict(domain = dom_y, anchor = 'x2', range = [-0.03747, 0.00231], tickvals = acf_ticks, tickformat = '.3f', **spine),
        bargap = 0,
    )

    # right panel grid sits over the bars, like the reference
    for t in acf_ticks:
        fig.add_shape(type = 'line', xref = 'x2 domain', yref = 'y2', x0 = 0, x1 = 1, y0 = t, y1 = t,
                      line = dict(color = GRID, width = 1.5), layer = 'above')
    fig.add_shape(type = 'line', xref = 'x2 domain', yref = 'y2', x0 = 0, x1 = 1, y0 = 0, y1 = 0,
                  line = dict(color = '#1a1a1a', width = 1.5), layer = 'above')

    texts = [
        (f'尾盘冲击外溢到隔夜（相关系数 {corr_coef:.3f}）'.replace('-', '−'), sum(dom_l) / 2, py(34), 0, 23.5),
        ('对照组：零可预测性市场加价差回弹也能测出负自相关', sum(dom_r) / 2, py(34), 0, 23.5),
        ('尾盘 30 分钟收益 (%)', sum(dom_l) / 2, py(669), 0, 20),
        ('隔夜收益 (%)', px(36), sum(dom_y) / 2, -90, 19),
        ('平均一阶自相关', px(913), sum(dom_y) / 2, -90, 19),
    ]
    for txt, x, y, ang, size in texts:
        fig.add_annotation(text = txt, xref = 'paper', yref = 'paper', x = x, y = y,
                           xanchor = 'center', yanchor = 'middle', textangle = ang, showarrow = False,
                           font = dict(size = size, family = FONT, color = '#1a1a1a'))

    fig.write_html(output_file)


if __name__ == "__main__":
    make_plot()
